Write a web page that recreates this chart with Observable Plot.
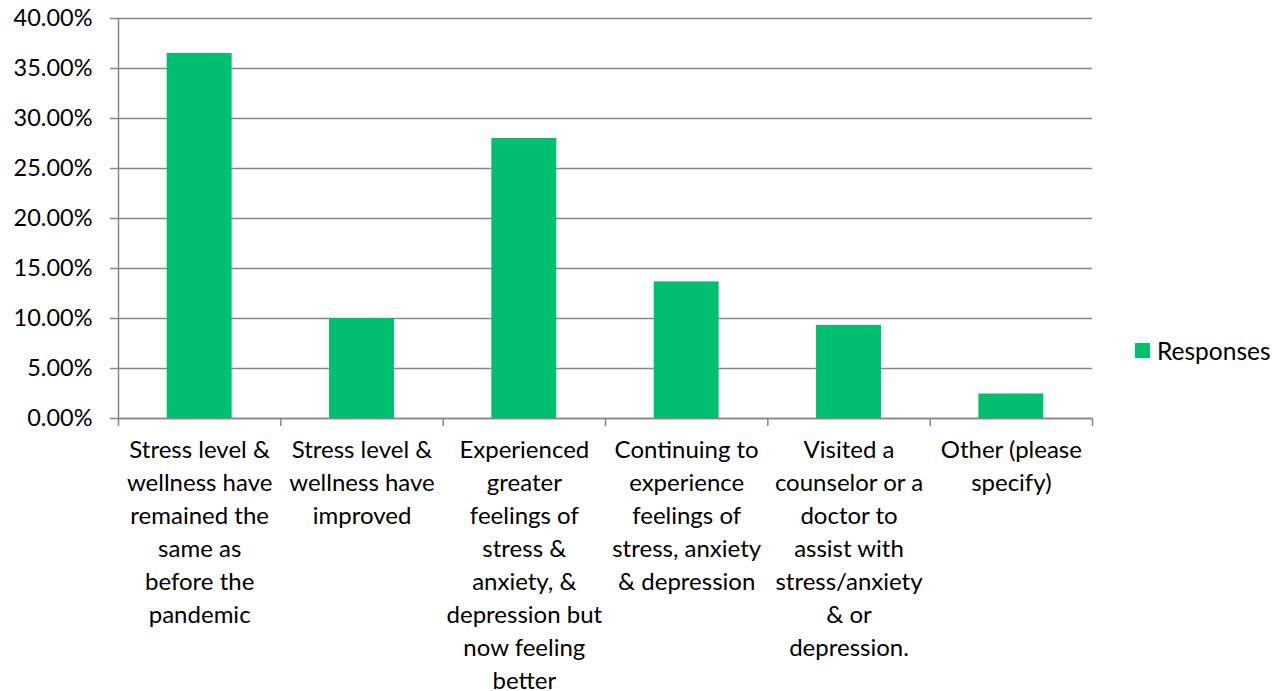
<!DOCTYPE html>
<html>
<head>
<meta charset="utf-8">
<script src="https://cdn.jsdelivr.net/npm/d3@7"></script>
<script src="https://cdn.jsdelivr.net/npm/@observablehq/plot@0.6"></script>
<style>
  html, body { margin: 0; padding: 0; background: #fff; }
  #wrap { position: relative; width: 1282px; height: 691px; font-family: Lato, "Open Sans", sans-serif; }
  #legend { position: absolute; left: 1135px; top: 336px; display: flex; align-items: center; font-size: 24.5px; color: #000; }
  #legend .sw { width: 15px; height: 15px; background: #00BF6F; margin-right: 7px; }
</style>
</head>
<body>
<div id="wrap"></div>
<script>
const categories = [
  "Stress level &\nwellness have\nremained the\nsame as\nbefore the\npandemic",
  "Stress level &\nwellness have\nimproved",
  "Experienced\ngreater\nfeelings of\nstress &\nanxiety, &\ndepression but\nnow feeling\nbetter",
  "Continuing to\nexperience\nfeelings of\nstress, anxiety\n& depression",
  "Visited a\ncounselor or a\ndoctor to\nassist with\nstress/anxiety\n& or\ndepression.",
  "Other (please\nspecify)"
];
const responses = [0.365, 0.100, 0.280, 0.1366, 0.093, 0.0245];
const yTicks = [0, 0.05, 0.10, 0.15, 0.20, 0.25, 0.30, 0.35, 0.40];
const seriesName = "Responses";

const data = categories.map((c, i) => ({i, category: c, value: responses[i]}));
const gap = 0.3; // Excel gap width 150%

const gridColor = "#868686";
const chart = Plot.plot({
  width: 1282,
  height: 691,
  marginLeft: 118,
  marginRight: 190,
  marginTop: 18,
  marginBottom: 273,
  style: {fontFamily: "Lato, 'Open Sans', sans-serif", fontSize: "24px", color: "#000", background: "#fff", overflow: "visible"},
  x: {domain: [0, categories.length]},
  y: {domain: [0, 0.40]},
  marks: [
    Plot.gridY(yTicks, {stroke: gridColor, strokeOpacity: 1, strokeWidth: 1.5}),
    Plot.rectY(data, {x1: d => d.i + gap, x2: d => d.i + 1 - gap, y: "value", fill: "#00BF6F"}),
    Plot.ruleX([0], {stroke: gridColor, strokeWidth: 1.5}),
    Plot.ruleY([0], {stroke: gridColor, strokeWidth: 1.5}),
    Plot.axisY(yTicks, {tickFormat: d3.format(".2%"), tickSize: 8, tickPadding: 18, stroke: gridColor, strokeWidth: 1.5, fontSize: 23.5, fill: "#000", label: null}),
    Plot.axisX(d3.range(categories.length + 1), {tickFormat: () => "", tickSize: 8, stroke: gridColor, strokeWidth: 1.5, label: null}),
    Plot.text(data, {x: d => d.i + 0.5, y: 0, text: "category", lineAnchor: "top", lineHeight: 1.375, dy: 16, fontSize: 24, fill: "#000"})
  ]
});
document.getElementById("wrap").appendChild(chart);
const lg = document.createElement("div");
lg.id = "legend";
lg.innerHTML = `<span class="sw"></span><span>${seriesName}</span>`;
document.getElementById("wrap").appendChild(lg);
</script>
</body>
</html>
